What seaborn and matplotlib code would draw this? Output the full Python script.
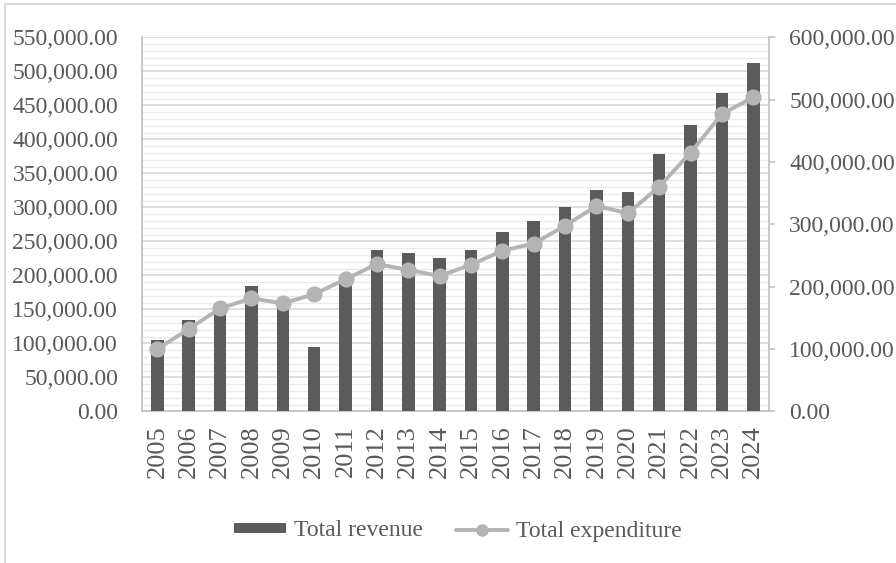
import numpy as np
import pandas as pd
import matplotlib
matplotlib.use("Agg")
import matplotlib.pyplot as plt
import seaborn as sns
from matplotlib.ticker import MultipleLocator, FuncFormatter
from matplotlib.patches import Patch, Rectangle
from matplotlib.lines import Line2D

years = [str(y) for y in range(2005, 2025)]
total_revenue = [104900, 133800, 150000, 184300, 155000, 95000, 190000, 237200,
                 233300, 225400, 237200, 264100, 280300, 300000, 325900, 322000,
                 378800, 421000, 467600, 512200]
total_expenditure = [100000, 132000, 165000, 181300, 173000, 188000, 211800, 236300,
                     226700, 217000, 235200, 257700, 269000, 297800, 329400, 317700,
                     360400, 414900, 477000, 503800]

bar_color = "#5b5b5b"
line_color = "#b4b4b4"
text_color = "#595959"

sns.set_theme(style="white")
plt.rcParams["font.family"] = ["Liberation Serif", "DejaVu Serif"]

df = pd.DataFrame({"year": years, "revenue": total_revenue, "expenditure": total_expenditure})

fig = plt.figure(figsize=(8.96, 5.63), dpi=100)
ax = fig.add_axes([141.7 / 896, 1 - 411.3 / 563, (769 - 141.7) / 896, (411.3 - 37.3) / 563])

sns.barplot(data=df, x="year", y="revenue", ax=ax, color=bar_color, width=0.40,
            saturation=1, edgecolor="none", zorder=3)
ax.set_ylim(0, 550000)
ax.yaxis.set_major_locator(MultipleLocator(50000))
ax.yaxis.set_minor_locator(MultipleLocator(10000))
ax.grid(axis="y", which="major", color="#d9d9d9", linewidth=1.2, zorder=0)
ax.grid(axis="y", which="minor", color="#ebebeb", linewidth=1.0, zorder=0)
ax.set_axisbelow(True)
fmt = FuncFormatter(lambda v, p: f"{v:,.2f}")
ax.yaxis.set_major_formatter(fmt)
ax.set_xlabel("")
ax.set_ylabel("")
ax.tick_params(axis="y", which="both", length=0, pad=17, labelsize=17, labelcolor=text_color)
ax.tick_params(axis="x", length=0, pad=10, labelsize=19, labelcolor=text_color, rotation=90)
for s in ["top", "right"]:
    ax.spines[s].set_visible(False)
for s in ["left", "bottom"]:
    ax.spines[s].set_color("#bfbfbf")
    ax.spines[s].set_linewidth(1.2)

ax2 = ax.twinx()
sns.pointplot(data=df, x="year", y="expenditure", ax=ax2, color=line_color,
              markers="o", linestyles="-", markersize=9.5, linewidth=2.8, zorder=5)
ax2.set_ylim(0, 600000)
ax2.set_xlim(-0.5, len(years) - 0.5)
ax.set_xlim(-0.5, len(years) - 0.5)
ax2.yaxis.set_major_locator(MultipleLocator(100000))
ax2.yaxis.set_major_formatter(fmt)
ax2.set_ylabel("")
ax2.set_xlabel("")
ax2.grid(False)
ax2.tick_params(axis="y", which="major", right=True, direction="out", length=4.5, width=1.2,
                color="#bfbfbf", pad=10, labelsize=17, labelcolor=text_color)
for s in ["top", "left", "bottom"]:
    ax2.spines[s].set_visible(False)
ax2.spines["right"].set_color("#bfbfbf")
ax2.spines["right"].set_linewidth(1.2)

handles = [Patch(facecolor=bar_color, edgecolor="none"),
           Line2D([0], [0], color=line_color, linewidth=2.8, marker="o", markersize=8)]
fig.legend(handles, ["Total revenue", "Total expenditure"], loc="center",
           bbox_to_anchor=(458 / 896, 1 - 531 / 563), ncol=2, frameon=False,
           fontsize=17, labelcolor=text_color, handlelength=2.2, handleheight=0.3,
           handletextpad=0.35, columnspacing=1.4)

fig.patches.append(Rectangle((5 / 896, -0.1), 1.2, 1 - 3.7 / 563 + 0.1, transform=fig.transFigure,
                             fill=False, edgecolor="#d9d9d9", linewidth=1.5))

fig.savefig("out.png", dpi=100)
